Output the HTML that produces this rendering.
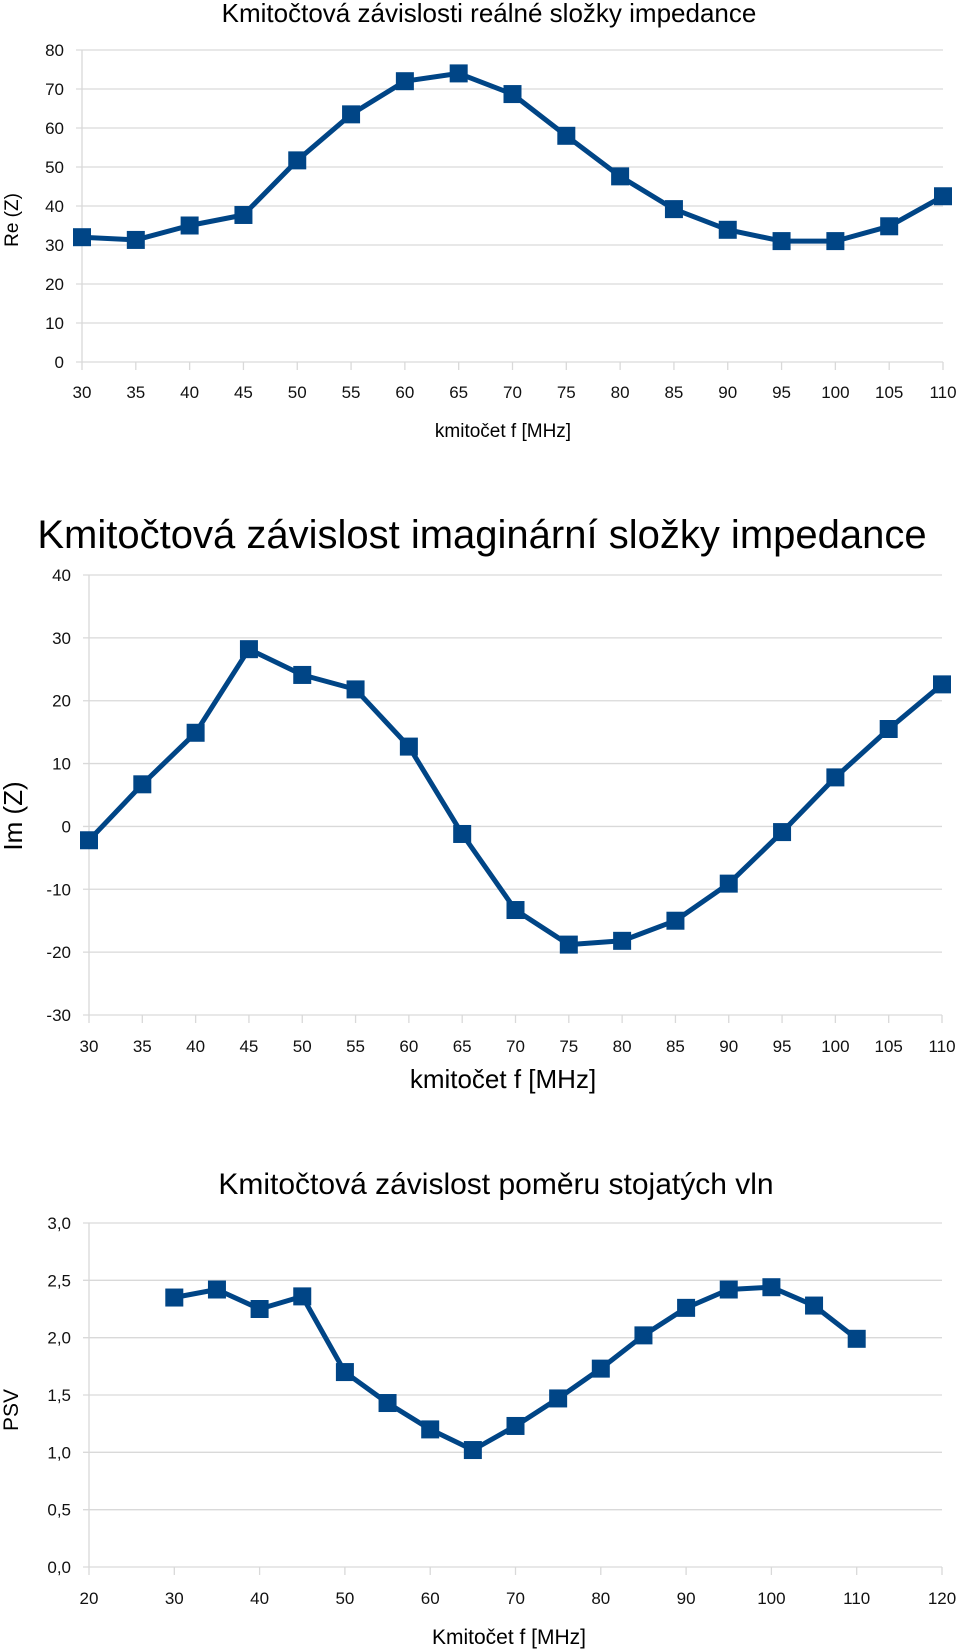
<!DOCTYPE html>
<html><head><meta charset="utf-8"><style>
html,body{margin:0;padding:0;background:#fff;}
svg{display:block;font-family:"Liberation Sans",sans-serif;}
</style></head><body>
<svg id="s" width="960" height="1652" viewBox="0 0 960 1652" xmlns="http://www.w3.org/2000/svg">
<text x="489" y="22" font-size="26" text-anchor="middle">Kmitočtová závislosti reálné složky impedance</text>
<text x="503" y="437" font-size="19" text-anchor="middle">kmitočet f [MHz]</text>
<text transform="translate(18,220) rotate(-90)" font-size="19" text-anchor="middle">Re (Z)</text>
<text x="482" y="548" font-size="40" text-anchor="middle">Kmitočtová závislost imaginární složky impedance</text>
<text x="503" y="1088" font-size="26" text-anchor="middle">kmitočet f [MHz]</text>
<text transform="translate(22,816) rotate(-90)" font-size="26" text-anchor="middle">Im (Z)</text>
<text x="496" y="1194" font-size="30" text-anchor="middle">Kmitočtová závislost poměru stojatých vln</text>
<text x="509" y="1644" font-size="21" text-anchor="middle">Kmitočet f [MHz]</text>
<text transform="translate(18,1410) rotate(-90)" font-size="21" text-anchor="middle">PSV</text>
</svg>
<script>
const freqs = [30,35,40,45,50,55,60,65,70,75,80,85,90,95,100,105,110];
const reValues = [32,31.3,35,37.7,51.7,63.5,72,74,68.7,58,47.6,39.2,33.9,31,31,34.8,42.5];
const imValues = [-2.2,6.7,14.9,28.2,24.1,21.8,12.7,-1.2,-13.3,-18.8,-18.2,-15,-9.1,-0.9,7.8,15.5,22.6];
const psvValues = [2.35,2.42,2.25,2.36,1.7,1.43,1.2,1.02,1.23,1.47,1.73,2.02,2.26,2.42,2.44,2.28,1.99];
const reYTicks = [0,10,20,30,40,50,60,70,80];
const imYTicks = [-30,-20,-10,0,10,20,30,40];
const psvYTicks = [0,0.5,1,1.5,2,2.5,3];
const psvXTicks = [20,30,40,50,60,70,80,90,100,110,120];

const svg = document.getElementById('s');
const NS = 'http://www.w3.org/2000/svg';
function mk(tag, attrs){const e=document.createElementNS(NS,tag);for(const k in attrs)e.setAttribute(k,attrs[k]);svg.appendChild(e);return e;}

function chart(id, cfg){
  const xs = v => cfg.x0 + (v - cfg.xmin)/(cfg.xmax - cfg.xmin)*(cfg.x1 - cfg.x0);
  const ys = v => cfg.y0 + (v - cfg.ymin)/(cfg.ymax - cfg.ymin)*(cfg.y1 - cfg.y0);
  cfg.yTicks.forEach(t=>{
    const g = mk('line',{x1:cfg.x0-6,x2:cfg.x1,y1:ys(t),y2:ys(t),stroke:'#d9d9d9','stroke-width':1.3});
    
    
    const l = mk('text',{x:cfg.x0-18,y:ys(t)+6,'font-size':cfg.fs,'text-anchor':'end',fill:'#111'});
    l.textContent = cfg.yFmt(t);
    
    
  });
  const ax = mk('line',{x1:cfg.x0,x2:cfg.x0,y1:cfg.y1,y2:cfg.y0,stroke:'#d9d9d9','stroke-width':1.3});
  
  
  cfg.xTicks.forEach(t=>{
    const tk = mk('line',{x1:xs(t),x2:xs(t),y1:cfg.y0,y2:cfg.y0+8,stroke:'#d9d9d9','stroke-width':1.3});
    
    
    const l = mk('text',{x:xs(t),y:cfg.xLabY,'font-size':cfg.fs,'text-anchor':'middle',fill:'#111'});
    l.textContent = t;
    
    
  });
  const pts = freqs.map((f,i)=>xs(f).toFixed(1)+','+ys(cfg.vals[i]).toFixed(1)).join(' ');
  const pl = mk('polyline',{points:pts,fill:'none',stroke:'#004586','stroke-width':5,'stroke-linejoin':'round'});
  
  
  freqs.forEach((f,i)=>{
    const r = mk('rect',{x:xs(f)-9,y:ys(cfg.vals[i])-9,width:18,height:18,fill:'#004586'});
    
    
  });
}
chart('chart1',{x0:82,x1:943,xmin:30,xmax:110,y0:362,y1:50,ymin:0,ymax:80,yTicks:reYTicks,xTicks:freqs,vals:reValues,fs:17,xLabY:398,yFmt:t=>t});
chart('chart2',{x0:89,x1:942,xmin:30,xmax:110,y0:1015,y1:575,ymin:-30,ymax:40,yTicks:imYTicks,xTicks:freqs,vals:imValues,fs:17,xLabY:1052,yFmt:t=>t});
chart('chart3',{x0:89,x1:942,xmin:20,xmax:120,y0:1567,y1:1223,ymin:0,ymax:3,yTicks:psvYTicks,xTicks:psvXTicks,vals:psvValues,fs:17,xLabY:1604,yFmt:t=>t.toFixed(1).replace('.',',')});
</script>
</body></html>
